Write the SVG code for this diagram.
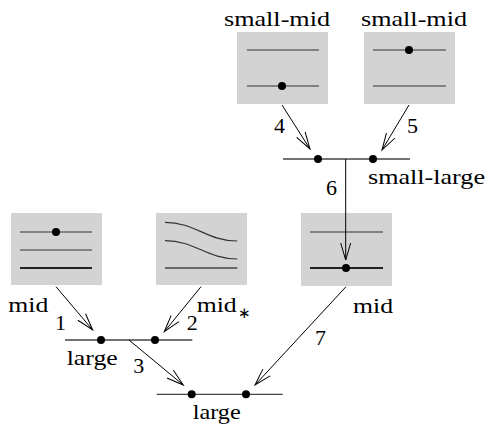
<svg xmlns="http://www.w3.org/2000/svg" width="486" height="427" viewBox="0 0 486 427">
<style>
.box{fill:#d3d3d3;stroke:none}
.ln{stroke:#333;stroke-width:1.2;fill:none}
.thk{stroke:#222;stroke-width:2;fill:none}
.hl{stroke:#444;stroke-width:1.3;fill:none}
.dot{fill:#000}
.con{stroke:#000;stroke-width:1;fill:none;marker-end:url(#arr)}
.t{font-family:'Liberation Serif',serif;font-size:22px;fill:#000}
</style>
<defs>
<marker id="arr" markerUnits="userSpaceOnUse" markerWidth="24" markerHeight="14" refX="0" refY="0" viewBox="-20 -7 24 14" orient="auto" overflow="visible">
<path d="M-17,-5 L0,0 L-17,5" stroke="#000" stroke-width="1" fill="none"/>
</marker>
</defs>
<g id="node-small-mid-1">
<rect class="box" x="237" y="32" width="91" height="72"/>
<line class="ln" x1="247" y1="50" x2="319" y2="50"/>
<line class="ln" x1="247" y1="86" x2="319" y2="86"/>
<circle class="dot" cx="282" cy="86" r="4"/>
<text class="t" x="224" y="25.5" textLength="106" lengthAdjust="spacingAndGlyphs">small-mid</text>
</g>
<g id="node-small-mid-2">
<rect class="box" x="364" y="32" width="91" height="72"/>
<line class="ln" x1="373" y1="50" x2="446" y2="50"/>
<line class="ln" x1="373" y1="86" x2="446" y2="86"/>
<circle class="dot" cx="409" cy="50" r="4"/>
<text class="t" x="361" y="25.5" textLength="106" lengthAdjust="spacingAndGlyphs">small-mid</text>
</g>
<g id="node-small-large">
<line class="hl" x1="283" y1="159" x2="410" y2="159"/>
<circle class="dot" cx="318" cy="159" r="4"/>
<circle class="dot" cx="373" cy="159" r="4"/>
<text class="t" x="368" y="184" textLength="117" lengthAdjust="spacingAndGlyphs">small-large</text>
</g>
<g id="node-mid-right">
<rect class="box" x="301" y="213" width="91" height="73"/>
<line class="ln" x1="310" y1="232" x2="383" y2="232"/>
<line class="thk" x1="310" y1="268" x2="383" y2="268"/>
<circle class="dot" cx="346" cy="268" r="4"/>
<text class="t" x="353" y="313" textLength="40" lengthAdjust="spacingAndGlyphs">mid</text>
</g>
<g id="node-mid-left">
<rect class="box" x="11" y="213" width="91" height="72"/>
<line class="ln" x1="20" y1="232" x2="92" y2="232"/>
<line class="ln" x1="20" y1="250" x2="92" y2="250"/>
<line class="thk" x1="20" y1="268" x2="92" y2="268"/>
<circle class="dot" cx="56" cy="232" r="4"/>
<text class="t" x="8.3" y="311.7" textLength="40" lengthAdjust="spacingAndGlyphs">mid</text>
</g>
<g id="node-mid-star">
<rect class="box" x="156" y="213" width="91" height="72"/>
<path class="ln" d="M165,222.3 C195,222.3 207,241 237.3,241"/>
<path class="ln" d="M165,240.7 C195,240.7 207,259 237.3,259"/>
<line class="hl" x1="165" y1="268" x2="237.3" y2="268" stroke="#666"/>
<text class="t" x="196.7" y="311.7" textLength="40" lengthAdjust="spacingAndGlyphs">mid</text>
<text class="t" x="237.5" y="318" style="font-size:15px">∗</text>
</g>
<g id="node-large-mid">
<line class="hl" x1="65" y1="340" x2="192.3" y2="340"/>
<circle class="dot" cx="101" cy="340" r="4"/>
<circle class="dot" cx="155" cy="340" r="4"/>
<text class="t" x="66.7" y="365" textLength="51" lengthAdjust="spacingAndGlyphs">large</text>
</g>
<g id="node-large-bottom">
<line class="hl" x1="156.7" y1="394.3" x2="282.7" y2="394.3" stroke="#666"/>
<circle class="dot" cx="191.7" cy="394.3" r="4"/>
<circle class="dot" cx="246" cy="394.3" r="4"/>
<text class="t" x="192.7" y="419" textLength="48" lengthAdjust="spacingAndGlyphs">large</text>
</g>
<g id="connectors">
<line class="con" x1="282" y1="105" x2="310" y2="149"/>
<line class="con" x1="409" y1="105" x2="382" y2="150"/>
<line class="con" x1="345.7" y1="159" x2="345.7" y2="260"/>
<line class="con" x1="346" y1="286.7" x2="255" y2="385"/>
<line class="con" x1="56" y1="286.7" x2="92.7" y2="330"/>
<line class="con" x1="201" y1="286.7" x2="164.3" y2="331.7"/>
<line class="con" x1="129" y1="340" x2="183.3" y2="385"/>
<text class="t" x="55" y="330">1</text>
<text class="t" x="186.7" y="330">2</text>
<text class="t" x="133.3" y="373">3</text>
<text class="t" x="274" y="133">4</text>
<text class="t" x="407" y="133">5</text>
<text class="t" x="326" y="195">6</text>
<text class="t" x="315" y="345">7</text>
</g>
</svg>
